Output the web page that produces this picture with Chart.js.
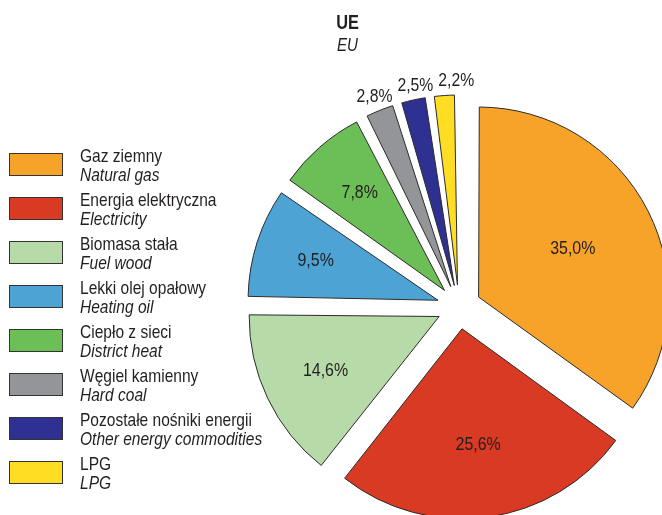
<!DOCTYPE html>
<html>
<head>
<meta charset="utf-8">
<script src="https://cdn.jsdelivr.net/npm/chart.js@4.4.0/dist/chart.umd.min.js"></script>
<style>
  body { margin: 0; background: #fff; }
  #wrap { position: relative; width: 662px; height: 515px; overflow: hidden;
    font-family: "Liberation Sans", Arial, sans-serif; color: #231f20; }
  #chart { position: absolute; left: 0; top: 0; }
  #title { position: absolute; left: 288px; width: 120px; top: 11px; text-align: center; line-height: 23px; }
  #title div span { display: inline-block; transform: scaleX(0.84); }
  #title .pl { font-weight: bold; font-size: 19.5px; }
  #title .en { font-style: italic; font-size: 18px; }
  .item { position: absolute; left: 9px; }
  .box { position: absolute; left: 0; top: 0; width: 52px; height: 21px; border: 1px solid #333; }
  .txt { position: absolute; left: 71px; top: -7px; white-space: nowrap; font-size: 18.5px; line-height: 19px;
    transform: scaleX(0.84); transform-origin: 0 0; }
  .txt i { display: block; }
</style>
</head>
<body>
<div id="wrap">
  <canvas id="chart" width="662" height="515"></canvas>
  <div id="title"><div class="pl"><span>UE</span></div><div class="en"><span>EU</span></div></div>
  <div id="legend"></div>
</div>
<script>
// kolejnosc jak w legendzie, zgodnie z ruchem wskazowek od godz. 12
const labelsPl = ["Gaz ziemny", "Energia elektryczna", "Biomasa stała", "Lekki olej opałowy",
  "Ciepło z sieci", "Węgiel kamienny", "Pozostałe nośniki energii", "LPG"];
const labelsEn = ["Natural gas", "Electricity", "Fuel wood", "Heating oil",
  "District heat", "Hard coal", "Other energy commodities", "LPG"];
const shares = [35.0, 25.6, 14.6, 9.5, 7.8, 2.8, 2.5, 2.2];
const colors = ["#F7A32A", "#D83A24", "#B6DAA8", "#4DA4D4", "#6CBE57", "#939598", "#2E3192", "#FFDD22"];

const fmt = v => v.toFixed(1).replace(".", ",") + "%";
const explode = 22; // px, chart.js dzieli offset przez 4
const R = 190;

// legenda
const legend = document.getElementById("legend");
labelsPl.forEach((pl, i) => {
  const item = document.createElement("div");
  item.className = "item";
  item.style.top = (153 + i * 44) + "px";
  item.innerHTML = '<div class="box" style="background:' + colors[i] + '"></div>' +
    '<div class="txt">' + pl + '<i>' + labelsEn[i] + '</i></div>';
  legend.appendChild(item);
});

// chart.js powieksza wysuniete waskie wycinki - wyrownujemy promien
const sameRadius = {
  id: "sameRadius",
  afterDatasetUpdate(chart) {
    chart.getDatasetMeta(0).data.forEach(arc => {
      const fix = 1 - Math.sin(Math.min(Math.PI, arc.circumference));
      arc.outerRadius = R - explode * fix;
    });
  }
};

const sliceLabels = {
  id: "sliceLabels",
  afterDatasetsDraw(chart) {
    const ctx = chart.ctx;
    const meta = chart.getDatasetMeta(0);
    let prevRight = -Infinity;
    ctx.save();
    ctx.fillStyle = "#231f20";
    ctx.textAlign = "center";
    ctx.textBaseline = "middle";
    meta.data.forEach((arc, i) => {
      const mid = (arc.startAngle + arc.endAngle) / 2;
      const th = arc.endAngle - arc.startAngle;
      const small = shares[i] < 5;
      const sx = small ? 0.9 : 0.84;
      ctx.font = (small ? "17.5px" : "19px") + ' "Liberation Sans", Arial, sans-serif';
      // male wycinki: etykieta na zewnatrz, duze: w srodku ciezkosci wycinka
      const r = explode + (small ? R + 14 : 1.03 * 4 * R * Math.sin(th / 2) / (3 * th));
      let x = arc.x + Math.cos(mid) * r;
      const y = arc.y + Math.sin(mid) * r;
      if (small) {
        const w = ctx.measureText(fmt(shares[i])).width * sx;
        if (x - w / 2 < prevRight + 5) x = prevRight + 5 + w / 2;
        prevRight = x + w / 2;
      }
      ctx.save();
      ctx.translate(x, y);
      ctx.scale(sx, 1);
      ctx.fillText(fmt(shares[i]), 0, 0);
      ctx.restore();
    });
    ctx.restore();
  }
};

new Chart(document.getElementById("chart"), {
  type: "pie",
  data: {
    labels: labelsPl,
    datasets: [{
      data: shares,
      backgroundColor: colors,
      borderColor: "#2b2b2b",
      borderWidth: 1,
      offset: explode * 4,
      clip: false
    }]
  },
  options: {
    responsive: false,
    animation: false,
    radius: R,
    layout: { padding: { left: 256, right: 0, top: 99, bottom: 0 } },
    plugins: { legend: { display: false }, tooltip: { enabled: false } }
  },
  plugins: [sameRadius, sliceLabels]
});
</script>
</body>
</html>
